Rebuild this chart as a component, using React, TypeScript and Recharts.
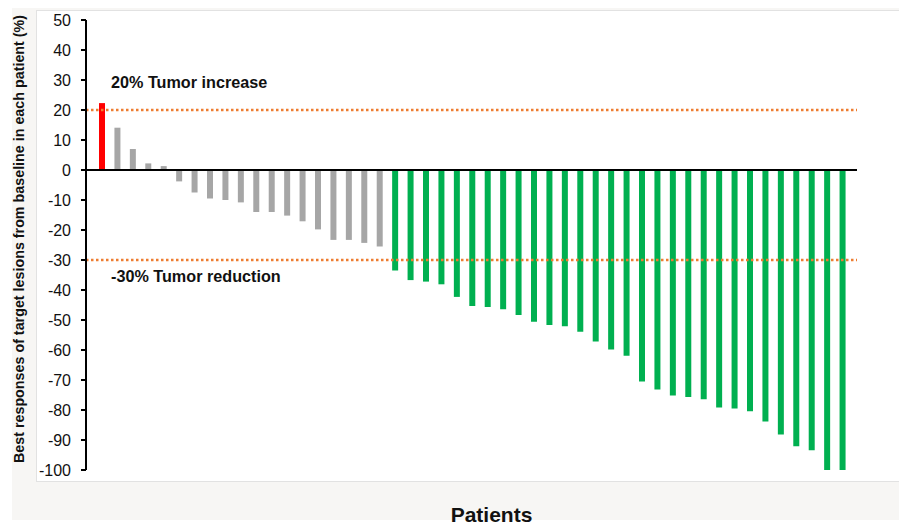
import React from 'react';
import { BarChart, Bar, XAxis, YAxis, ReferenceLine, Cell } from 'recharts';

const patients: string[] = Array.from({ length: 49 }, (_, i) => `P${i + 1}`);
const responses: number[] = [
  22.3, 14.1, 7.0, 2.2, 1.3,
  -3.8, -7.5, -9.5, -10.0, -10.8, -14.0, -14.0, -15.2, -17.1, -19.8, -23.3, -23.3, -24.3, -25.5,
  -33.5, -36.7, -37.2, -38.1, -42.3, -45.3, -45.7, -46.4, -48.3, -50.6, -51.7, -52.1, -53.9, -57.2, -59.8, -61.9,
  -70.5, -73.2, -75.2, -75.7, -76.4, -79.2, -79.5, -80.4, -83.8, -88.2, -92.1, -93.4, -100, -100,
];
const yTicks: number[] = [50, 40, 30, 20, 10, 0, -10, -20, -30, -40, -50, -60, -70, -80, -90, -100];
const increaseThreshold = 20;
const reductionThreshold = -30;

const data = patients.map((p, i) => ({ patient: p, value: responses[i] }));

const colorFor = (v: number) =>
  v > increaseThreshold ? '#ff0000' : v <= reductionThreshold ? '#00b050' : '#a6a6a6';

const FONT = '"Liberation Sans", Arial, Helvetica, sans-serif';

export default function App() {
  return (
    <div style={{ position: 'absolute', left: 0, top: 0, width: 899, height: 522, background: '#ffffff', overflow: 'hidden', fontFamily: FONT }}>
      <div style={{ position: 'absolute', left: 12, top: 8, width: 887, height: 512, background: '#f7f6f4' }} />
      <div style={{ position: 'absolute', left: 36, top: 10, width: 863, height: 470, background: '#ffffff', borderTop: '1px solid #e2e2e2', borderLeft: '1px solid #e2e2e2', borderBottom: '1px solid #e2e2e2' }} />
      <div style={{ position: 'absolute', left: 0, top: 0 }}>
        <BarChart
          width={899}
          height={522}
          data={data}
          margin={{ top: 20, right: 42, bottom: 52, left: 0 }}
          barSize={6}
        >
          <XAxis dataKey="patient" hide padding={{ left: 8, right: 7 }} />
          <YAxis
            domain={[-100, 50]}
            ticks={yTicks}
            interval={0}
            width={86}
            axisLine={{ stroke: '#000', strokeWidth: 2 }}
            tickLine={{ stroke: '#000', strokeWidth: 2 }}
            tickSize={5}
            tickMargin={10}
            tick={{ fill: '#111', fontSize: 16, fontFamily: FONT }}
            label={() => (
              <text
                x={24}
                y={239}
                transform="rotate(-90 24 239)"
                textAnchor="middle"
                fontFamily={FONT}
                fontWeight="bold"
                fontSize={14.3}
                fill="#111"
              >
                Best responses of target lesions from baseline in each patient  (%)
              </text>
            )}
          />
          <ReferenceLine y={increaseThreshold} stroke="#ed7d31" strokeWidth={2.5} strokeDasharray="2.5 2.5" />
          <ReferenceLine y={reductionThreshold} stroke="#ed7d31" strokeWidth={2.5} strokeDasharray="2.5 2.5" />
          <Bar dataKey="value" isAnimationActive={false}>
            {data.map((d, i) => (
              <Cell key={i} fill={colorFor(d.value)} />
            ))}
          </Bar>
          <ReferenceLine y={0} stroke="#000" strokeWidth={2} />
        </BarChart>
      </div>
      <div style={{ position: 'absolute', left: 111, top: 73, fontWeight: 'bold', fontSize: 16.2, color: '#111', whiteSpace: 'nowrap' }}>
        20% Tumor increase
      </div>
      <div style={{ position: 'absolute', left: 111, top: 267, fontWeight: 'bold', fontSize: 16.2, color: '#111', whiteSpace: 'nowrap' }}>
        -30% Tumor reduction
      </div>
      <div style={{ position: 'absolute', left: 0, width: 983, top: 503, textAlign: 'center', fontWeight: 'bold', fontSize: 21, color: '#111', whiteSpace: 'nowrap' }}>
        Patients
      </div>
    </div>
  );
}
